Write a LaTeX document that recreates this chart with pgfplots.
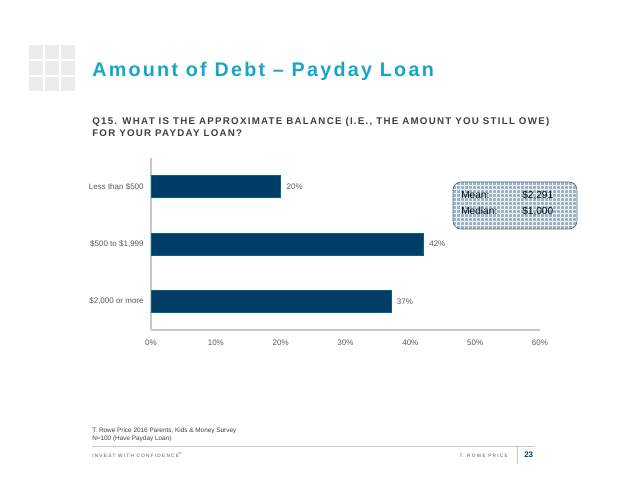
\documentclass[border=0pt]{standalone}
\usepackage{fontspec}
\setmainfont{Liberation Sans}
\usepackage{pgfplots}
\pgfplotsset{compat=1.18}
\usetikzlibrary{patterns}
\definecolor{navy}{RGB}{0,61,102}
\definecolor{titlecyan}{RGB}{22,166,200}
\definecolor{subgray}{RGB}{64,64,64}
\definecolor{tickgray}{RGB}{89,89,89}
\definecolor{axgray}{RGB}{200,200,200}
\definecolor{iconGray}{RGB}{236,236,236}
\definecolor{boxfill}{RGB}{155,180,200}
\definecolor{boxdraw}{RGB}{80,105,130}
\pgfplotstableread{
y val
0 37
1 42
2 20
}\debt
\begin{document}
\begin{tikzpicture}
\path[fill=white] (0,0) rectangle (478.5pt,369.75pt);
% icon
\foreach \i in {0,1,2}{\foreach \j in {0,1,2}{
 \fill[iconGray] ({21.75pt+\i*12pt},{336pt-\j*12pt}) rectangle ++(10.5pt,-10.5pt);
}}
% title
\node[anchor=base west,inner sep=0pt,text=titlecyan,font={\fontsize{14.8}{16}\selectfont\bfseries\addfontfeatures{LetterSpace=11.5}}] at (69pt,312pt) {Amount of Debt -- Payday Loan};
\node[anchor=base west,inner sep=0pt,text=subgray,font={\fontsize{7.3}{9.4}\selectfont\bfseries\addfontfeatures{LetterSpace=13}},align=left] at (69pt,267pt) {Q15. WHAT IS THE APPROXIMATE BALANCE (I.E., THE AMOUNT YOU STILL OWE)\\FOR YOUR PAYDAY LOAN?};
\begin{axis}[
 at={(113.25pt,122.25pt)}, anchor=south west,
 scale only axis, width=291.75pt, height=129pt,
 xbar, bar width=16.5pt,
 xmin=0, xmax=60, ymin=-0.5, ymax=2.5,
 xtick={0,10,...,60},
 xticklabel={\pgfmathprintnumber{\tick}\%},
 ytick={0,1,2},
 yticklabels={{\$2,000 or more},{\$500 to \$1,999},{Less than \$500}},
 axis x line*=bottom, axis y line*=left,
 axis line style={axgray, line width=0.8pt},
 major tick length=0pt,
 tick label style={font=\fontsize{6}{7}\selectfont, text=tickgray},
 xticklabel style={yshift=-4pt},
 yticklabel style={xshift=-2pt},
 /pgf/number format/assume math mode=true,
 nodes near coords={\pgfmathprintnumber{\pgfplotspointmeta}\%},
 nodes near coords style={font=\fontsize{6}{7}\selectfont, text=tickgray, xshift=1pt},
 clip=false,
]
\addplot[fill=navy, draw=navy!80!cyan] table[x=val,y=y] {\debt};
\end{axis}
% stats box
\fill[rounded corners=6pt, fill=boxfill] (339.75pt,233.25pt) rectangle (432.75pt,198pt);
\fill[rounded corners=6pt, pattern=grid, pattern color=white!85!boxfill] (339.75pt,233.25pt) rectangle (432.75pt,198pt);
\draw[rounded corners=6pt, draw=boxdraw, line width=0.5pt] (339.75pt,233.25pt) rectangle (432.75pt,198pt);
\node[anchor=base west,inner sep=0pt,font=\fontsize{7.6}{9}\selectfont,text=black!80!navy] at (345.75pt,220.5pt) {Mean:};
\node[anchor=base west,inner sep=0pt,font=\fontsize{7.6}{9}\selectfont,text=black!80!navy] at (391.5pt,220.5pt) {\$2,291};
\node[anchor=base west,inner sep=0pt,font=\fontsize{7.6}{9}\selectfont,text=black!80!navy] at (345.75pt,208.5pt) {Median:};
\node[anchor=base west,inner sep=0pt,font=\fontsize{7.6}{9}\selectfont,text=black!80!navy] at (391.5pt,208.5pt) {\$1,000};
% footer
\node[anchor=base west,inner sep=0pt,font=\fontsize{4.8}{6}\selectfont,text=subgray,align=left] at (69pt,39.75pt) {T. Rowe Price 2016 Parents, Kids \& Money Survey\\N=100 (Have Payday Loan)};
\draw[axgray, line width=0.6pt] (69pt,35.25pt) -- (401.25pt,35.25pt);
\node[anchor=base west,inner sep=0pt,font=\fontsize{3.6}{4}\selectfont\addfontfeatures{LetterSpace=25},text=tickgray] at (69pt,27pt) {INVEST WITH CONFIDENCE\textsuperscript{®}};
\node[anchor=base east,inner sep=0pt,font=\fontsize{3.6}{4}\selectfont\addfontfeatures{LetterSpace=25},text=tickgray] at (381pt,27pt) {T. ROWE PRICE};
\draw[axgray, line width=0.6pt] (387.75pt,35.25pt) -- (387.75pt,22pt);
\node[anchor=base west,inner sep=0pt,font=\fontsize{6}{7}\selectfont\bfseries,text=navy] at (393pt,27pt) {23};
\end{tikzpicture}
\end{document}
